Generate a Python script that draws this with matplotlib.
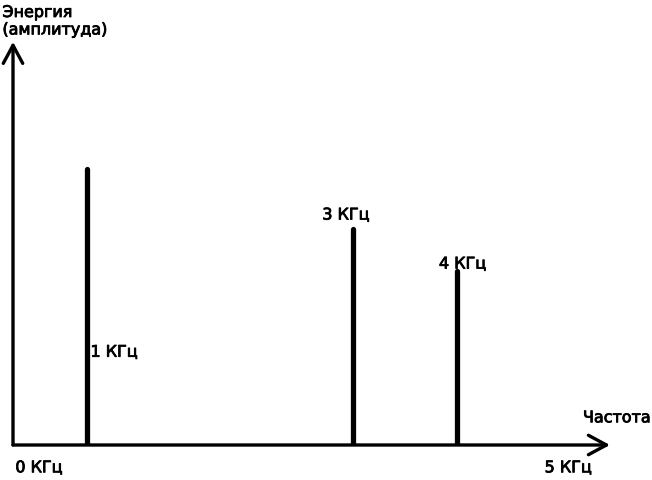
import matplotlib
matplotlib.use('Agg')
import matplotlib.pyplot as plt
import matplotlib.patheffects as pe

# positions of the peaks along the drawn frequency axis (0..5 kHz span)
freq_pos = [0.63, 2.90, 3.78]
amplitudes = [0.69, 0.54, 0.435]
peak_labels = ['1 КГц', '3 КГц', '4 КГц']

x_min_label = '0 КГц'
x_max_label = '5 КГц'
x_title = 'Частота'
y_title = 'Энергия\n(амплитуда)'

W, H = 652, 480
fig = plt.figure(figsize=(W / 100, H / 100), dpi=100)
fig.patch.set_facecolor('white')

# axes box: x 0..5 -> px 13..600, y 0..1 -> px 445..45
x0, x5 = 13, 600
y0, y1 = 445, 45
ax = fig.add_axes([x0 / W, (H - y0) / H, (x5 - x0) / W, (y0 - y1) / H])
ax.set_xlim(0, 5)
ax.set_ylim(0, 1)
ax.axis('off')

# slightly heavier strokes, the original text looks like it was drawn without antialiasing
font = dict(family='DejaVu Sans', fontsize=11.5, color='black',
            path_effects=[pe.withStroke(linewidth=0.6, foreground='black')])

# axes with arrows
arrow = dict(arrowstyle='->,head_length=1.3,head_width=0.7', lw=2.4, color='black',
             shrinkA=0, shrinkB=0)
ax.annotate('', xy=(5.085, 0), xytext=(0, 0), arrowprops=arrow, annotation_clip=False)
ax.annotate('', xy=(0, 1.008), xytext=(0, 0), arrowprops=arrow, annotation_clip=False)

# spectral lines
ax.vlines(freq_pos, 0, amplitudes, colors='black', lw=3.8, capstyle='round')

# peak labels
ax.text(freq_pos[0] + 0.03, 0.232, peak_labels[0], ha='left', va='center', **font)
ax.text(2.836, 0.575, peak_labels[1], ha='center', va='center', **font)
ax.text(3.83, 0.4525, peak_labels[2], ha='center', va='center', **font)

ax.text(0.02, -0.057, x_min_label, ha='left', va='center', **font)
ax.text(4.73, -0.057, x_max_label, ha='center', va='center', **font)
ax.text(4.855, 0.068, x_title, ha='left', va='center', **font)
ax.text(-0.09, 1.1, y_title, ha='left', va='top', linespacing=1.2, **font)

fig.savefig('out.png', dpi=100, facecolor='white')
